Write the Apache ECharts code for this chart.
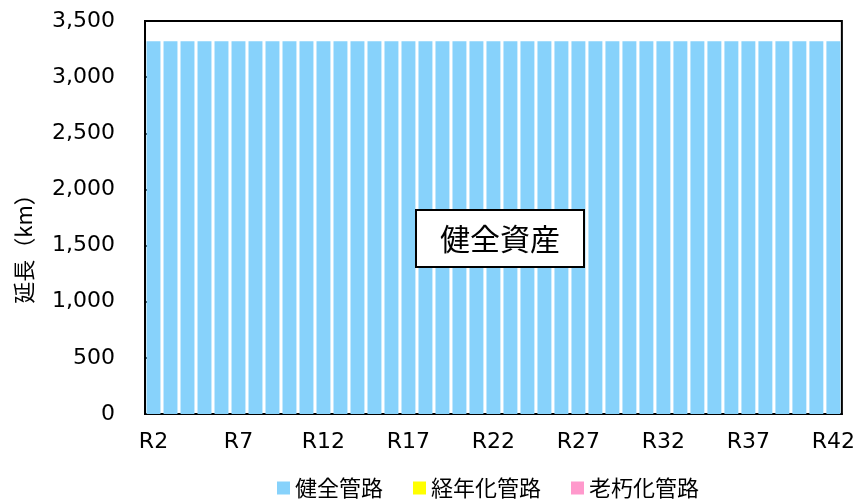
<!DOCTYPE html>
<html>
<head>
<meta charset="utf-8">
<title>延長</title>
<script src="https://cdn.jsdelivr.net/npm/echarts@6/dist/echarts.min.js"></script>
<style>
  html, body { margin: 0; padding: 0; background: #fff; }
  #chart { width: 858px; height: 500px; }
</style>
</head>
<body>
<div id="chart"></div>
<script>
// 年度 R2 ～ R42
const years = [];
for (let y = 2; y <= 42; y++) years.push('R' + y);

// 延長 (km)
const healthy = [
  3320, 3320, 3320, 3320, 3320, 3320, 3320, 3320, 3320, 3320,
  3320, 3320, 3320, 3320, 3320, 3320, 3320, 3320, 3320, 3320,
  3320, 3320, 3320, 3320, 3320, 3320, 3320, 3320, 3320, 3320,
  3320, 3320, 3320, 3320, 3320, 3320, 3320, 3320, 3320, 3320,
  3320
];
const aging = [
  0, 0, 0, 0, 0, 0, 0, 0, 0, 0,
  0, 0, 0, 0, 0, 0, 0, 0, 0, 0,
  0, 0, 0, 0, 0, 0, 0, 0, 0, 0,
  0, 0, 0, 0, 0, 0, 0, 0, 0, 0,
  0
];
const deteriorated = [
  0, 0, 0, 0, 0, 0, 0, 0, 0, 0,
  0, 0, 0, 0, 0, 0, 0, 0, 0, 0,
  0, 0, 0, 0, 0, 0, 0, 0, 0, 0,
  0, 0, 0, 0, 0, 0, 0, 0, 0, 0,
  0
];

const font = 'DejaVu Sans, "Noto Sans CJK JP", sans-serif';
const cjk = '"Noto Sans CJK JP", sans-serif';
const chart = echarts.init(document.getElementById('chart'));

const option = {
  animation: false,
  textStyle: { fontFamily: font, color: '#000' },
  grid: {
    left: 145, right: 15, top: 21, bottom: 86,
    show: true, borderColor: '#000', borderWidth: 2,
    backgroundColor: 'transparent'
  },
  legend: {
    bottom: 1,
    left: 277,
    padding: 0,
    itemWidth: 13,
    itemHeight: 13,
    itemGap: 30,
    icon: 'rect',
    textStyle: { fontSize: 22, fontFamily: cjk, color: '#000' },
    data: ['健全管路', '経年化管路', '老朽化管路']
  },
  xAxis: {
    type: 'category',
    data: years,
    axisLine: { lineStyle: { color: '#000', width: 2 } },
    axisTick: { inside: true, length: 6, interval: 0, lineStyle: { color: '#000', width: 1.5 } },
    axisLabel: { interval: 4, fontSize: 22, margin: 17, color: '#000' }
  },
  yAxis: {
    type: 'value',
    min: 0, max: 3500, interval: 500,
    name: '延長（km）',
    nameLocation: 'middle',
    nameGap: 110,
    nameTextStyle: { fontSize: 22, fontFamily: cjk, color: '#000', padding: [0, 52, 0, 0] },
    axisLine: { show: true, lineStyle: { color: '#000', width: 2 } },
    axisTick: { show: true, inside: true, length: 8, lineStyle: { color: '#000', width: 2 } },
    splitLine: { show: false },
    axisLabel: {
      fontSize: 22, margin: 30, color: '#000',
      formatter: v => v.toLocaleString('en-US')
    }
  },
  series: [
    {
      name: '健全管路', type: 'bar', stack: 'total', data: healthy,
      barCategoryGap: '18%',
      itemStyle: { color: '#87D2FB' }
    },
    {
      name: '経年化管路', type: 'bar', stack: 'total', data: aging,
      itemStyle: { color: '#FFFF00' }
    },
    {
      name: '老朽化管路', type: 'bar', stack: 'total', data: deteriorated,
      itemStyle: { color: '#FF99CC' }
    }
  ],
  graphic: [
    {
      type: 'group',
      left: 415, top: 209, z: 100,
      children: [
        {
          type: 'rect', z: 100,
          shape: { x: 0, y: 0, width: 168, height: 57 },
          style: { fill: '#fff', stroke: '#000', lineWidth: 2 }
        },
        {
          type: 'text', z: 101,
          x: 84, y: 29,
          style: {
            text: '健全資産', fill: '#000',
            font: '30px "Noto Sans CJK JP", sans-serif',
            align: 'center', verticalAlign: 'middle'
          }
        }
      ]
    }
  ]
};

chart.setOption(option);
</script>
</body>
</html>
